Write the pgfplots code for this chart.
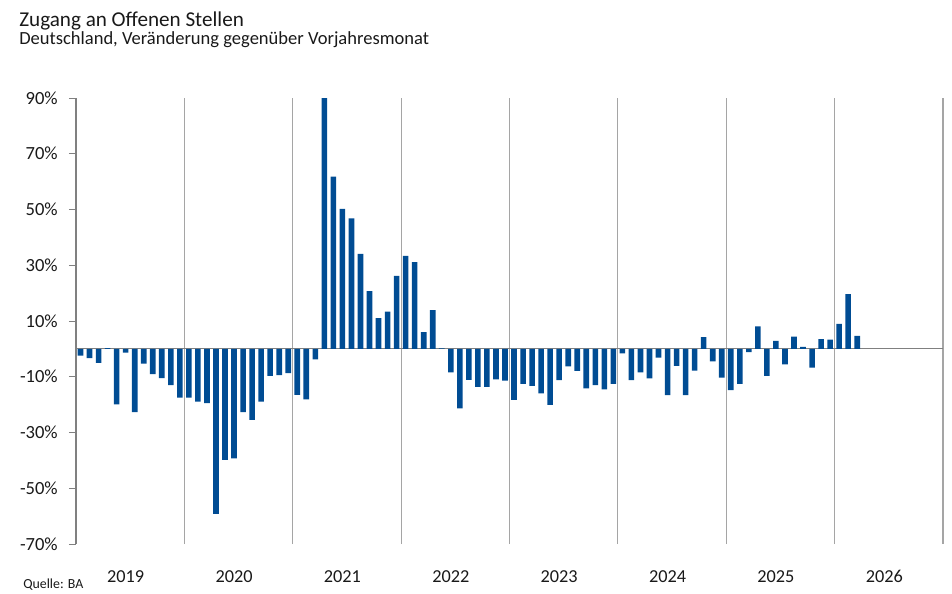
\documentclass[border=0pt]{standalone}
\usepackage{pgfplots}
\pgfplotsset{compat=1.18}
\usepackage{fontspec}
\setmainfont{Carlito}
\definecolor{barblue}{RGB}{0,76,147}
\definecolor{gridgray}{RGB}{165,165,165}
\definecolor{axisgray}{RGB}{128,128,128}
\definecolor{txt}{RGB}{25,25,25}
\pgfplotstableread{
x y
1 -2.4
2 -3.3
3 -5.0
4 0.3
5 -19.9
6 -1.3
7 -22.7
8 -5.3
9 -9.1
10 -10.5
11 -13.0
12 -17.5
13 -17.5
14 -18.9
15 -19.5
16 -59.2
17 -39.8
18 -39.3
19 -22.7
20 -25.5
21 -18.9
22 -9.7
23 -9.4
24 -8.7
25 -16.5
26 -18.1
27 -3.8
28 90
29 61.8
30 50.2
31 46.8
32 34.1
33 20.7
34 11.0
35 13.4
36 26.2
37 33.4
38 31.1
39 6.0
40 13.9
41 0.2
42 -8.4
43 -21.3
44 -11.1
45 -13.6
46 -13.6
47 -10.9
48 -11.4
49 -18.3
50 -12.6
51 -13.3
52 -16.0
53 -20.1
54 -11.2
55 -6.3
56 -7.9
57 -14.2
58 -13.0
59 -14.5
60 -12.6
61 -1.6
62 -11.2
63 -8.4
64 -10.6
65 -3.1
66 -16.6
67 -6.1
68 -16.6
69 -7.8
70 4.2
71 -4.5
72 -10.3
73 -14.8
74 -12.6
75 -1.2
76 8.1
77 -9.7
78 2.9
79 -5.6
80 4.4
81 0.7
82 -6.7
83 3.5
84 3.3
85 9.0
86 19.6
87 4.7
}\datatable
\begin{document}
\begin{tikzpicture}
\path[use as bounding box] (0pt,0pt) rectangle (714pt,444.75pt);
\node[anchor=base west, inner sep=0pt, text=txt, font=\fontsize{15.85}{18}\selectfont] at (14.25pt,424.5pt) {Zugang an Offenen Stellen};
\node[anchor=base west, inner sep=0pt, text=txt, font=\fontsize{13.9}{16}\selectfont] at (14.25pt,411pt) {Deutschland, Veränderung gegenüber Vorjahresmonat};
\node[anchor=base west, inner sep=0pt, text=txt, font=\fontsize{10.4}{12}\selectfont] at (17.25pt,3.75pt) {Quelle: BA};
\begin{axis}[
  at={(57pt,36.75pt)}, anchor=south west,
  scale only axis, width=650.25pt, height=334.5pt,
  xmin=0.5, xmax=96.5, ymin=-70, ymax=90,
  axis line style={draw=none},
  ytick={-70,-50,-30,-10,10,30,50,70,90},
  yticklabels={-70\%,-50\%,-30\%,-10\%,10\%,30\%,50\%,70\%,90\%},
  ytick pos=left, tick align=outside,
  major tick length=5.25pt,
  ytick style={draw=axisgray, line width=0.75pt},
  yticklabel style={inner sep=0pt, xshift=-8.25pt, text=txt, font=\fontsize{13.9}{16}\selectfont},
  xtick={6,18,30,42,54,66,78,90},
  xticklabels={2019,2020,2021,2022,2023,2024,2025,2026},
  xtick style={draw=none},
  xticklabel style={anchor=base, yshift=-23.25pt, text=txt, font=\fontsize{13.7}{16}\selectfont},
  minor xtick={12.5,24.5,36.5,48.5,60.5,72.5,84.5,96.5},
  minor x tick style={draw=none},
  xminorgrids=true,
  minor grid style={draw=gridgray, line width=0.9pt},
  extra y ticks={0},
  extra y tick labels={},
  extra y tick style={ymajorgrids=true, major grid style={draw=axisgray, line width=0.9pt}, major tick length=0pt},
  clip=false,
]
\draw[axisgray, line width=0.9pt] (axis cs:0.5,-70) -- (axis cs:0.5,90);
\addplot[ybar, bar width=0.62, fill=barblue, draw=none] table[x=x,y=y]{\datatable};
\end{axis}
\end{tikzpicture}
\end{document}
